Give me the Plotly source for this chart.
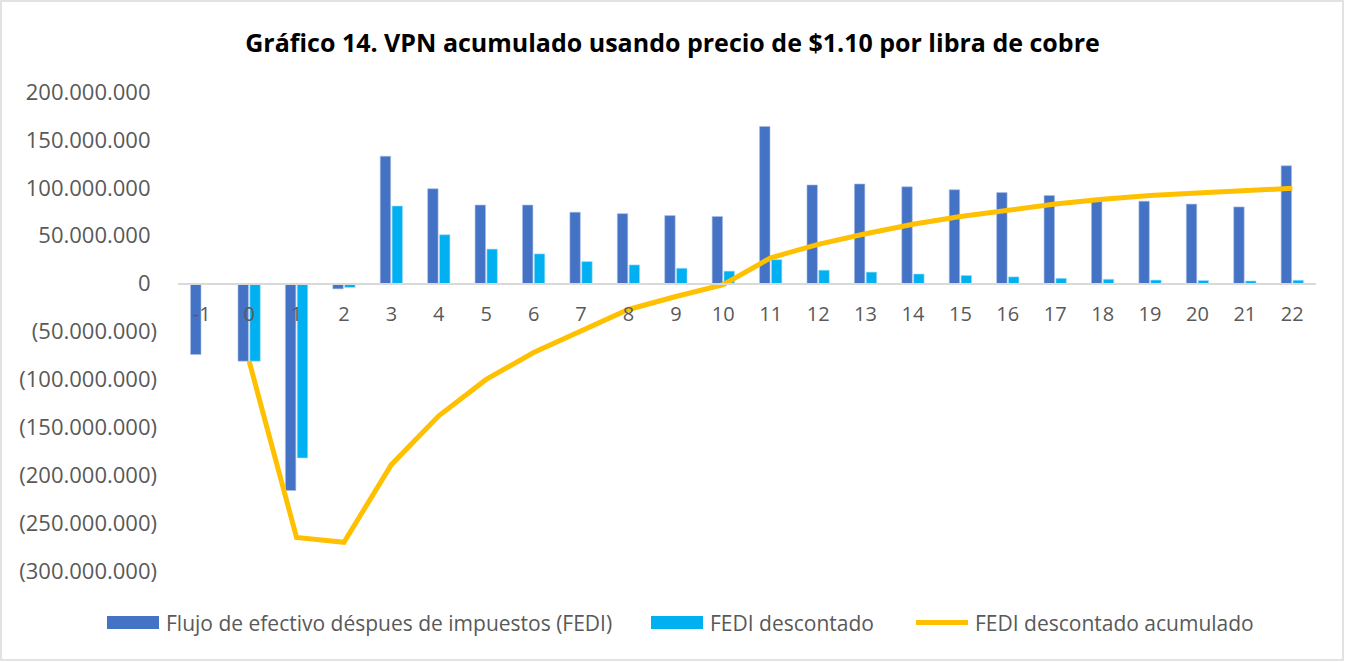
import plotly.graph_objects as go

categories = ["-1", "0", "1", "2", "3", "4", "5", "6", "7", "8", "9", "10", "11",
              "12", "13", "14", "15", "16", "17", "18", "19", "20", "21", "22"]

fedi = [-74e6, -81e6, -216e6, -5.5e6, 133e6, 99e6, 82e6, 82e6, 74.5e6, 73e6, 71e6, 70e6,
        164e6, 103e6, 104e6, 101e6, 98e6, 95e6, 92e6, 89e6, 86e6, 83e6, 80e6, 123e6]

fedi_desc = [None, -81e6, -182e6, -4e6, 81e6, 51e6, 36e6, 31e6, 23e6, 19.5e6, 16e6, 13e6,
             25e6, 14e6, 12e6, 10e6, 8.5e6, 7e6, 5.5e6, 4.5e6, 3.7e6, 3.2e6, 2.7e6, 3.5e6]

fedi_acum = [None, -81e6, -265e6, -270e6, -189e6, -138e6, -100e6, -72e6, -49e6, -27e6, -13.5e6,
             -1e6, 27e6, 41e6, 52e6, 62e6, 70e6, 77e6, 83e6, 88e6, 92e6, 94.5e6, 97e6, 99.5e6]

series_names = ["Flujo de efectivo déspues de impuestos (FEDI)", "FEDI descontado",
                "FEDI descontado acumulado"]

tick_vals = [200e6, 150e6, 100e6, 50e6, 0, -50e6, -100e6, -150e6, -200e6, -250e6, -300e6]
tick_text = ["200.000.000", "150.000.000", "100.000.000", "50.000.000", "0",
             "(50.000.000)", "(100.000.000)", "(150.000.000)", "(200.000.000)",
             "(250.000.000)", "(300.000.000)"]

FONT = "Open Sans"
GREY = "#595959"
C_DARK, C_LIGHT, C_LINE = "#4472C4", "#00B0F0", "#FFC000"

# pad positive labels with an invisible ")" like Excel's "#,##0_)" format
tick_text_fmt = [t if t.startswith("(") else t + '<span style="color:rgba(0,0,0,0)">)</span>'
                 for t in tick_text]

fig = go.Figure()
fig.add_trace(go.Bar(x=categories, y=fedi, name=series_names[0], showlegend=False,
                     marker=dict(color=C_DARK, line=dict(color="#A9BEE6", width=0.6))))
fig.add_trace(go.Bar(x=categories, y=fedi_desc, name=series_names[1], showlegend=False,
                     marker=dict(color=C_LIGHT, line=dict(color="#9FDDF7", width=0.6))))
fig.add_trace(go.Scatter(x=categories, y=fedi_acum, name=series_names[2], showlegend=False,
                         mode="lines", line=dict(color=C_LINE, width=5), connectgaps=False))

W, H = 1345, 663
L, R, T, B = 178, 29, 92, 92
pw, ph = W - L - R, H - T - B


def px(x):
    return (x - L) / pw


def py(y):
    return (T + ph - y) / ph


fig.update_layout(
    width=W, height=H,
    margin=dict(l=L, r=R, t=T, b=B),
    paper_bgcolor="white", plot_bgcolor="white",
    font=dict(family=FONT, color=GREY, size=20),
    title=dict(text="<b>Gráfico 14. VPN acumulado usando precio de $1.10 por libra de cobre</b>",
               x=0.5, xref="container", xanchor="center", y=1 - 43 / H, yanchor="middle",
               font=dict(family=FONT, size=25, color="black")),
    barmode="group", bargap=0.5, bargroupgap=0.12,
    showlegend=False,
    xaxis=dict(type="category", anchor="free", position=0.6, showline=True,
               linecolor="#D9D9D9", linewidth=1.5, ticks="", showgrid=False,
               ticklabelstandoff=13,
               tickfont=dict(family=FONT, size=20, color=GREY), zeroline=False),
    yaxis=dict(range=[-300e6, 200e6], tickvals=tick_vals, ticktext=tick_text_fmt,
               showgrid=False, zeroline=False, showline=False, ticks="",
               ticklabelstandoff=20,
               tickfont=dict(family=FONT, size=22, color=GREY)),
)

# outer chart border
fig.add_shape(type="rect", xref="paper", yref="paper",
              x0=px(1), x1=px(W - 2), y0=py(H - 3), y1=py(1),
              line=dict(color="#D9D9D9", width=1.5), fillcolor="rgba(0,0,0,0)", layer="below")

# legend (Excel-style keys)
LY = 622.5
fig.add_shape(type="rect", xref="paper", yref="paper", x0=px(107), x1=px(159),
              y0=py(LY + 6.5), y1=py(LY - 6.5), fillcolor=C_DARK, line=dict(width=0))
fig.add_shape(type="rect", xref="paper", yref="paper", x0=px(651), x1=px(703),
              y0=py(LY + 6.5), y1=py(LY - 6.5), fillcolor=C_LIGHT, line=dict(width=0))
fig.add_shape(type="line", xref="paper", yref="paper", x0=px(916), x1=px(968),
              y0=py(LY), y1=py(LY), line=dict(color=C_LINE, width=5))
for xs, name in [(164, series_names[0]), (708, series_names[1]), (973, series_names[2])]:
    fig.add_annotation(x=px(xs), y=py(LY), xref="paper", yref="paper", text=name,
                       showarrow=False, xanchor="left", yanchor="middle",
                       font=dict(family=FONT, size=21, color=GREY))

fig.write_html("out.html", config={"displayModeBar": False},
               post_script="document.body.style.margin='0';")
